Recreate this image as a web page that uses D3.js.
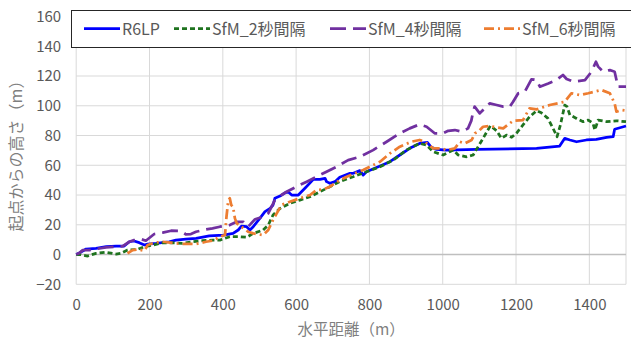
<!DOCTYPE html>
<html>
<head>
<meta charset="utf-8">
<script src="https://cdn.jsdelivr.net/npm/d3@7"></script>
<style>
  body { margin: 0; background: #fff; }
  text { font-family: "Noto Sans CJK JP", "Noto Sans", sans-serif; }
</style>
</head>
<body>
<div id="chart"></div>
<script>
// chart size
var svgWidth = 631;
var svgHeight = 340;

var margin = { top: 16.5, right: 5, bottom: 55.7, left: 76.2 };
var chartWidth = svgWidth - margin.left - margin.right;
var chartHeight = svgHeight - margin.top - margin.bottom;

// data: [horizontal distance, height]
var r6lp = [[0,0],[7,0.8],[27,3.7],[54,4.2],[82,5.3],[109,5.7],[131,5.7],[145,8.6],[158,9.1],[172,8],[186,6.4],[195,7],[218,7.5],[254,8.6],[272,9.7],[299,10.4],[327,10.9],[363,12.5],[402,13.1],[428,14.2],[442,16.5],[451,19.1],[465,18.7],[474,16.5],[483,18.7],[501,24.3],[515,28.8],[529,31],[537,33.3],[542,37.8],[556,39.3],[570,41.5],[578,42.2],[588,40],[606,40],[624,44.5],[647,50.5],[665,50.5],[679,51.2],[683,49],[692,47.9],[706,49],[719,52],[747,54.6],[756,54.6],[774,56.4],[783,53.4],[792,55.7],[829,59.5],[856,62.4],[883,66.9],[910,71.4],[937,74.7],[958,75.4],[969,72.1],[983,70.7],[1010,70.2],[1092,70.7],[1256,71.4],[1319,72.9],[1333,78.1],[1347,77],[1365,75.8],[1392,77],[1419,77.4],[1447,78.8],[1465,79.2],[1469,84.2],[1500,86.4]];

var sfm2 = [[0,0],[9,0.1],[31,-1],[54,0.8],[81,1.5],[109,0.3],[122,0.8],[140,3],[168,3.5],[186,5.3],[209,6.4],[236,7.9],[263,7.9],[290,7.5],[318,8.6],[345,9.3],[373,9.7],[392,9.7],[419,12],[447,12],[465,11.6],[483,14.2],[510,16.5],[524,19.8],[537,26.6],[556,31],[583,34.4],[610,36.6],[638,38.9],[665,42.2],[692,45.6],[719,49],[742,51.2],[756,52.3],[792,55.7],[829,59],[865,63.5],[901,70.3],[937,74.7],[956,73.6],[974,69.1],[1001,66.9],[1019,69.1],[1029,70.2],[1042,66.9],[1065,65.7],[1083,66.9],[1110,78.1],[1130,86.6],[1147,83.2],[1160,78.1],[1174,80.3],[1188,78.8],[1201,81.5],[1219,87.1],[1237,92.6],[1256,96.7],[1269,95.3],[1287,91.5],[1301,84.8],[1312,79.2],[1321,87.1],[1333,100.5],[1339,99.4],[1347,93.8],[1365,91.5],[1383,89.3],[1397,90.4],[1410,88.2],[1415,83.7],[1424,90.4],[1447,89.3],[1474,89.9],[1500,89.3]];

var sfm4 = [[0,0],[7,0.8],[18,3],[36,3],[81,4.8],[109,5.3],[127,5.7],[145,8.6],[158,9.7],[177,10.4],[190,9.3],[213,13.8],[236,14.7],[259,16],[286,15.8],[299,13.6],[313,13.8],[327,15.3],[354,16.9],[372,17.6],[392,18.7],[419,19.8],[438,22],[456,22],[469,18.7],[488,23.7],[510,25.4],[524,27.7],[542,36.6],[560,40],[574,42.2],[601,45.6],[629,49],[656,52.3],[683,55.7],[710,59],[742,63.5],[774,65.7],[810,70.2],[847,75.8],[883,81.5],[910,84.8],[937,87.5],[956,85.9],[978,81.5],[1001,81.5],[1015,83.2],[1033,83.7],[1051,82.6],[1069,84.8],[1078,90],[1083,96],[1087,99.4],[1101,94.9],[1115,98.3],[1128,101.6],[1147,100.5],[1165,99.4],[1183,99.4],[1192,102.7],[1206,108.4],[1224,109.5],[1242,117.8],[1256,117.3],[1265,112.8],[1288,115],[1310,117.3],[1328,120.7],[1338,118],[1356,116.2],[1374,116.8],[1388,117.3],[1406,122.9],[1418,129.6],[1424,126.3],[1438,122.9],[1456,124],[1469,122.9],[1478,112.8],[1500,112.8]];

var sfm6 = [[140,0.8],[154,3],[168,3.5],[186,2.6],[195,6.4],[213,7.9],[236,8.6],[272,7.5],[299,7.1],[327,7.1],[354,8.6],[372,9.3],[392,12],[406,13.1],[410,25.4],[415,36.6],[419,37.8],[423,33.3],[428,32.1],[433,24.3],[438,21],[451,18.7],[469,15.3],[483,14.2],[510,13.1],[524,16.5],[537,23.2],[547,27.7],[560,33.3],[583,35.5],[610,37.8],[638,40],[656,43.4],[674,43.8],[692,45.6],[719,50],[738,52.3],[783,56.8],[801,59],[829,62.4],[856,68],[883,72.5],[914,75.8],[937,77],[951,75.8],[974,71.4],[997,71.4],[1010,70.2],[1033,71.4],[1047,75.8],[1060,74.7],[1079,77],[1088,81.5],[1097,82.6],[1110,85.9],[1128,86.4],[1147,85.5],[1165,84.8],[1192,89.9],[1219,90.4],[1237,98.3],[1256,97.6],[1292,100.5],[1333,102.7],[1351,108.4],[1374,107.2],[1397,108.4],[1415,109.5],[1433,110.6],[1456,108.4],[1469,101.6],[1474,96],[1488,97.1],[1500,96.7]];

var seriesNames = ["R6LP", "SfM_2秒間隔", "SfM_4秒間隔", "SfM_6秒間隔"];
var xTicks = [0, 200, 400, 600, 800, 1000, 1200, 1400];
var yTicks = [-20, 0, 20, 40, 60, 80, 100, 120, 140, 160];

// line styles per series
var styles = [
  { color: "#0000ff", width: 2.75, dash: null },
  { color: "#1f731f", width: 2.75, dash: "5,3" },
  { color: "#7030a0", width: 2.75, dash: "16,7" },
  { color: "#ed7d31", width: 2.75, dash: "10,4,2,4" }
];

var svg = d3.select("#chart")
  .append("svg")
  .attr("width", svgWidth)
  .attr("height", svgHeight);

var chartGroup = svg.append("g")
  .attr("transform", `translate(${margin.left}, ${margin.top})`);

var xScale = d3.scaleLinear().domain([0, 1500]).range([0, chartWidth]);
var yScale = d3.scaleLinear().domain([-20, 160]).range([chartHeight, 0]);

// vertical gridlines
chartGroup.append("g")
  .selectAll("line")
  .data(xTicks.concat([1500]))
  .enter()
  .append("line")
  .attr("x1", d => xScale(d))
  .attr("x2", d => xScale(d))
  .attr("y1", 0)
  .attr("y2", chartHeight)
  .attr("stroke", "#d9d9d9")
  .attr("stroke-width", 1);

// horizontal gridlines
chartGroup.append("g")
  .selectAll("line")
  .data(yTicks)
  .enter()
  .append("line")
  .attr("x1", 0)
  .attr("x2", chartWidth)
  .attr("y1", d => yScale(d))
  .attr("y2", d => yScale(d))
  .attr("stroke", d => d === 0 ? "#bfbfbf" : "#d9d9d9")
  .attr("stroke-width", d => d === 0 ? 1.5 : 1);

// axes (labels only)
var bottomAxis = d3.axisBottom(xScale).tickValues(xTicks).tickFormat(d3.format("d"))
  .tickSize(0).tickPadding(15);
var leftAxis = d3.axisLeft(yScale).tickValues(yTicks).tickFormat(d3.format("d"))
  .tickSize(0).tickPadding(15);

var xAxis = chartGroup.append("g")
  .attr("transform", `translate(0, ${chartHeight})`)
  .call(bottomAxis);
var yAxis = chartGroup.append("g").call(leftAxis);

[xAxis, yAxis].forEach(function(ax) {
  ax.select(".domain").remove();
  ax.selectAll("text")
    .attr("fill", "#595959")
    .attr("font-size", "15px")
    .attr("font-family", "\"Noto Sans CJK JP\", sans-serif");
});

// series lines
var line = d3.line()
  .x(d => xScale(d[0]))
  .y(d => yScale(d[1]));

[r6lp, sfm2, sfm4, sfm6].forEach(function(data, i) {
  chartGroup.append("path")
    .datum(data)
    .attr("d", line)
    .attr("fill", "none")
    .attr("stroke", styles[i].color)
    .attr("stroke-width", styles[i].width)
    .attr("stroke-dasharray", styles[i].dash)
    .attr("stroke-linejoin", "round");
});

// axis titles
svg.append("text")
  .attr("x", margin.left + chartWidth / 2)
  .attr("y", 335)
  .attr("text-anchor", "middle")
  .attr("fill", "#7f7f7f")
  .attr("font-size", "15.5px")
  .text("水平距離（m）");

svg.append("text")
  .attr("transform", "translate(22, 152) rotate(-90)")
  .attr("text-anchor", "middle")
  .attr("fill", "#7f7f7f")
  .attr("font-size", "16px")
  .text("起点からの高さ（m）");

// legend
var legend = svg.append("g");
legend.append("rect")
  .attr("x", 71.5)
  .attr("y", 10.5)
  .attr("width", 570)
  .attr("height", 37)
  .attr("fill", "#fff")
  .attr("stroke", "#262626")
  .attr("stroke-width", 1);

var legendX = [84, 174, 330, 484];
seriesNames.forEach(function(name, i) {
  legend.append("line")
    .attr("x1", legendX[i])
    .attr("x2", legendX[i] + 36)
    .attr("y1", 28.5)
    .attr("y2", 28.5)
    .attr("stroke", styles[i].color)
    .attr("stroke-width", styles[i].width)
    .attr("stroke-dasharray", styles[i].dash);
  legend.append("text")
    .attr("x", legendX[i] + 38)
    .attr("y", 34.5)
    .attr("fill", "#595959")
    .attr("font-size", "16px")
    .text(name);
});
</script>
</body>
</html>
